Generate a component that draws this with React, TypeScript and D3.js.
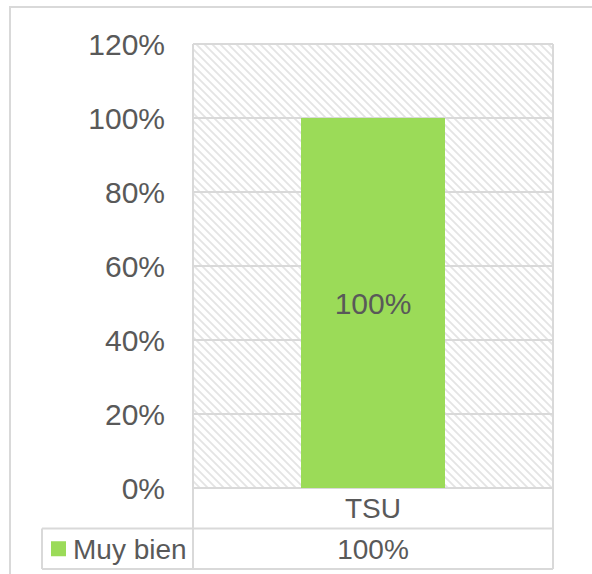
import React, { useEffect, useRef } from 'react';
import * as d3 from 'd3';

// chart data
const categories = ['TSU'];
const seriesName = 'Muy bien';
const seriesValues = [1.0];
const yTicks = [0, 0.2, 0.4, 0.6, 0.8, 1.0, 1.2];

const App = () => {
  const svgRef = useRef<SVGSVGElement>(null);

  useEffect(() => {
    const svg = d3.select(svgRef.current);
    svg.selectAll('*').remove();
    draw(svg);
  }, []);

  const draw = (svg: any) => {
    const left = 193, right = 553, top = 44, bottom = 488;
    const rowH = 40.5;
    const legendLeft = 42;
    const grey = '#d9d9d9';
    const textColor = '#595959';
    const font = 'Liberation Sans, Arial, sans-serif';
    const fmt = d3.format('.0%');

    const x = d3.scaleBand().domain(categories).range([left, right]).paddingInner(0.4286).paddingOuter(0.4286);
    const y = d3.scaleLinear().domain([0, 1.2]).range([bottom, top]);

    // hatch pattern for plot background
    const defs = svg.append('defs');
    const pat = defs.append('pattern')
      .attr('id', 'hatch')
      .attr('patternUnits', 'userSpaceOnUse')
      .attr('width', 8).attr('height', 8);
    pat.append('rect').attr('width', 8).attr('height', 8).attr('fill', '#ffffff');
    pat.append('path')
      .attr('d', 'M-2,-2 L10,10 M-2,6 L2,10 M6,-2 L10,2')
      .attr('stroke', '#e4e4e4')
      .attr('stroke-width', 1.8);

    // outer chart frame
    svg.append('rect')
      .attr('x', 10).attr('y', 7)
      .attr('width', 600).attr('height', 580)
      .attr('fill', 'none')
      .attr('stroke', grey)
      .attr('stroke-width', 2);

    svg.append('rect')
      .attr('x', left).attr('y', top)
      .attr('width', right - left).attr('height', bottom - top)
      .attr('fill', 'url(#hatch)');

    // gridlines
    svg.append('g')
      .selectAll('line')
      .data(yTicks)
      .enter()
      .append('line')
      .attr('x1', left).attr('x2', right)
      .attr('y1', (d: number) => y(d)).attr('y2', (d: number) => y(d))
      .attr('stroke', grey)
      .attr('stroke-width', 2);

    // plot border sides
    svg.append('line').attr('x1', left).attr('x2', left).attr('y1', top).attr('y2', bottom + rowH * 2)
      .attr('stroke', grey).attr('stroke-width', 2);
    svg.append('line').attr('x1', right).attr('x2', right).attr('y1', top).attr('y2', bottom + rowH * 2)
      .attr('stroke', grey).attr('stroke-width', 2);

    // y axis labels
    svg.append('g')
      .selectAll('text')
      .data(yTicks)
      .enter()
      .append('text')
      .attr('x', 165)
      .attr('y', (d: number) => y(d))
      .attr('dy', '0.35em')
      .attr('text-anchor', 'end')
      .attr('font-family', font)
      .attr('font-size', '30px')
      .attr('fill', textColor)
      .text((d: number) => fmt(d));

    // bars
    const bars = svg.append('g')
      .selectAll('.bar')
      .data(categories)
      .enter()
      .append('g');

    bars.append('rect')
      .attr('class', 'bar')
      .attr('x', (d: string) => x(d))
      .attr('y', (d: string, i: number) => y(seriesValues[i]))
      .attr('width', x.bandwidth())
      .attr('height', (d: string, i: number) => y(0) - y(seriesValues[i]))
      .attr('fill', '#9bdb58');

    bars.append('text')
      .attr('x', (d: string) => (x(d) as number) + x.bandwidth() / 2)
      .attr('y', (d: string, i: number) => (y(seriesValues[i]) + y(0)) / 2)
      .attr('dy', '0.35em')
      .attr('text-anchor', 'middle')
      .attr('font-family', font)
      .attr('font-size', '30px')
      .attr('fill', textColor)
      .text((d: string, i: number) => fmt(seriesValues[i]));

    // data table
    const row1 = bottom + rowH;
    const row2 = bottom + rowH * 2;
    svg.append('line').attr('x1', legendLeft).attr('x2', right).attr('y1', row1).attr('y2', row1)
      .attr('stroke', grey).attr('stroke-width', 2);
    svg.append('line').attr('x1', legendLeft).attr('x2', right).attr('y1', row2).attr('y2', row2)
      .attr('stroke', grey).attr('stroke-width', 2);
    svg.append('line').attr('x1', legendLeft).attr('x2', legendLeft).attr('y1', row1).attr('y2', row2)
      .attr('stroke', grey).attr('stroke-width', 2);

    svg.append('g')
      .selectAll('text')
      .data(categories)
      .enter()
      .append('text')
      .attr('x', (d: string) => (x(d) as number) + x.bandwidth() / 2)
      .attr('y', (bottom + row1) / 2)
      .attr('dy', '0.35em')
      .attr('text-anchor', 'middle')
      .attr('font-family', font)
      .attr('font-size', '28px')
      .attr('fill', textColor)
      .text((d: string) => d);

    svg.append('g')
      .selectAll('text')
      .data(seriesValues)
      .enter()
      .append('text')
      .attr('x', (d: number, i: number) => (x(categories[i]) as number) + x.bandwidth() / 2)
      .attr('y', (row1 + row2) / 2)
      .attr('dy', '0.35em')
      .attr('text-anchor', 'middle')
      .attr('font-family', font)
      .attr('font-size', '28px')
      .attr('fill', textColor)
      .text((d: number) => fmt(d));

    // legend key in table
    svg.append('rect')
      .attr('x', 51).attr('y', (row1 + row2) / 2 - 7.5)
      .attr('width', 15).attr('height', 15)
      .attr('fill', '#9bdb58');
    svg.append('text')
      .attr('x', 73)
      .attr('y', (row1 + row2) / 2)
      .attr('dy', '0.35em')
      .attr('font-family', font)
      .attr('font-size', '28px')
      .attr('fill', textColor)
      .text(seriesName);
  };

  return (
    <div style={{ position: 'absolute', left: 0, top: 0 }}>
      <svg ref={svgRef} width={592} height={574} style={{ display: 'block' }}></svg>
    </div>
  );
};

export default App;
